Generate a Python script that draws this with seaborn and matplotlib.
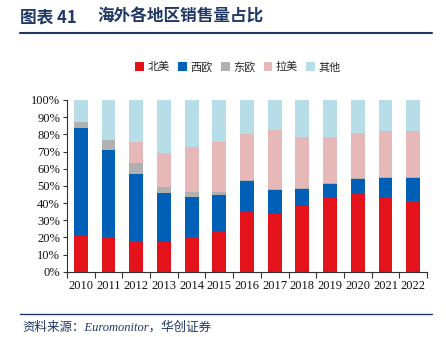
import numpy as np
import pandas as pd
import matplotlib
matplotlib.use("Agg")
import matplotlib.pyplot as plt
import seaborn as sns
from matplotlib.patches import Patch
from matplotlib.ticker import FuncFormatter

years = ["2010", "2011", "2012", "2013", "2014", "2015", "2016",
         "2017", "2018", "2019", "2020", "2021", "2022"]
series_names = ["北美", "西欧", "东欧", "拉美", "其他"]
north_america = [20.8, 20.0, 17.9, 17.5, 20.4, 23.7, 35.1, 33.4, 38.1, 42.9, 45.2, 43.5, 41.0]
west_europe = [63.1, 50.9, 39.0, 28.5, 23.3, 21.0, 17.7, 14.0, 10.2, 8.4, 9.0, 10.9, 13.6]
east_europe = [3.3, 5.8, 6.2, 3.3, 2.7, 1.5, 0.8, 0.8, 0.6, 0.5, 0.6, 0.6, 0.5]
latin_america = [0.0, 0.0, 12.6, 20.0, 26.2, 29.5, 26.8, 34.3, 29.5, 26.5, 26.0, 26.9, 27.0]
others = [12.8, 23.3, 24.3, 30.7, 27.4, 24.3, 19.6, 17.5, 21.6, 21.7, 19.2, 18.1, 17.9]
colors = ["#E3121B", "#0060B8", "#B0B0B0", "#E6B9B8", "#B7DDE8"]

sns.set_theme(style="white")
plt.rcParams["font.family"] = ["Noto Sans CJK SC", "DejaVu Sans"]

fig = plt.figure(figsize=(4.46, 3.37), dpi=100)
ax = fig.add_axes([67 / 446, 1 - 271.7 / 337, 360 / 446, 171.7 / 337])

vals = [north_america, west_europe, east_europe, latin_america, others]
cum = np.cumsum(np.array(vals), axis=0)
# draw from the top cumulative down so each layer overlays
for i in range(len(series_names) - 1, -1, -1):
    df = pd.DataFrame({"year": years, "value": cum[i]})
    sns.barplot(data=df, x="year", y="value", order=years, color=colors[i],
                width=0.5, saturation=1, ax=ax, linewidth=0, errorbar=None)

ax.set_xlim(-0.5, len(years) - 0.5)
ax.set_ylim(0, 100)
ax.set_yticks(np.arange(0, 101, 10))
ax.yaxis.set_major_formatter(FuncFormatter(lambda v, p: f"{int(v)}%"))
ax.set_xlabel("")
ax.set_ylabel("")
for s in ["top", "right"]:
    ax.spines[s].set_visible(False)
for s in ["left", "bottom"]:
    ax.spines[s].set_color("#333333")
    ax.spines[s].set_linewidth(0.8)

ax.set_xticks(np.arange(len(years)))
ax.set_xticklabels(years)
ax.set_xticks(np.arange(-0.5, len(years), 1), minor=True)
ax.tick_params(axis="x", which="major", length=0, pad=6)
ax.tick_params(axis="x", which="minor", length=4, direction="out", color="#333333", width=0.8, bottom=True)
ax.tick_params(axis="y", length=3, direction="out", color="#333333", width=0.8, left=True, pad=2)
for lab in ax.get_xticklabels() + ax.get_yticklabels():
    lab.set_fontfamily("Liberation Serif")
    lab.set_fontsize(9)
    lab.set_color("#111111")

handles = [Patch(facecolor=c, edgecolor="none") for c in colors]
fig.legend(handles, series_names, loc="center", bbox_to_anchor=(238 / 446, 1 - 67 / 337),
           ncol=5, frameon=False, fontsize=8, handlelength=0.8, handleheight=0.8,
           handletextpad=0.3, columnspacing=0.75)

title_color = "#1F3864"
fig.text(20 / 446, 1 - 17 / 337, "图表 41", fontsize=12, fontweight="bold",
         color=title_color, va="center", ha="left")
fig.text(97 / 446, 1 - 17 / 337, "海外各地区销售量占比", fontsize=12, fontweight="bold",
         color=title_color, va="center", ha="left")
fig.add_artist(plt.Line2D([20 / 446, 432 / 446], [1 - 33 / 337, 1 - 33 / 337], color=title_color, lw=1.5))
fig.add_artist(plt.Line2D([20 / 446, 432 / 446], [1 - 314 / 337, 1 - 314 / 337], color=title_color, lw=1.0))
fig.text(22 / 446, 1 - 327 / 337, "资料来源：Euromonitor，华创证券", fontsize=9, style="italic",
         family=["Liberation Serif", "Noto Sans CJK SC"],
         color=title_color, va="center", ha="left")

fig.savefig("out.png", dpi=100)
